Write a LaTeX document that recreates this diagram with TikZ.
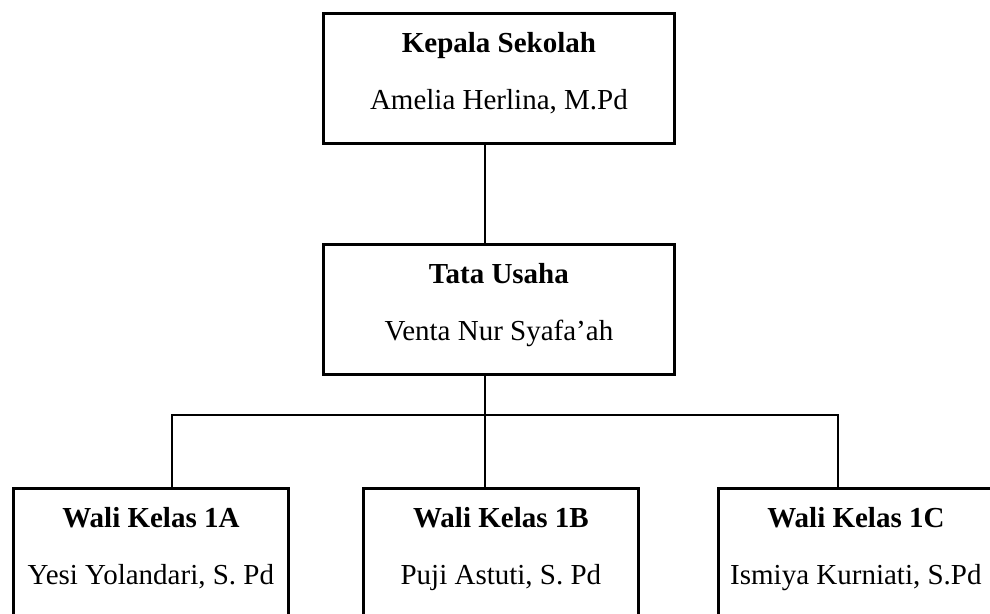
\documentclass[tikz,border=0pt]{standalone}
\usepackage{fontspec}
\setmainfont{Liberation Serif}
\begin{document}
\begin{tikzpicture}[x=1pt,y=-1pt,
  orgbox/.style={draw,line width=2.8pt,inner sep=0pt,anchor=north west,fill=white},
  bigbox/.style={orgbox,minimum width=351pt,minimum height=130pt},
  smallbox/.style={orgbox,minimum width=275pt,minimum height=150pt},
  roletxt/.style={anchor=base,inner sep=0pt,font=\bfseries\fontsize{29}{35}\selectfont},
  persontxt/.style={anchor=base,inner sep=0pt,font=\fontsize{29}{35}\selectfont},
  conn/.style={line width=2.8pt}]
\useasboundingbox (0,0) rectangle (990,613);
\clip (0,0) rectangle (990,613);
% trunk and drop coordinates
\coordinate (d1) at (172,415);
\coordinate (d2) at (485,415);
\coordinate (d3) at (838,415);
% boxes
\node[bigbox] (kepala) at (322,12) {};
\node[bigbox] (tata) at (322,243) {};
\node[smallbox] (w1) at (12,487) {};
\node[smallbox] (w2) at (362,487) {};
\node[smallbox] (w3) at (717,487) {};
% connectors
\draw[conn] (kepala.south -| d2) -- (tata.north -| d2);
\draw[conn] (tata.south -| d2) -- (d2);
\draw[conn,line cap=rect] (d1) -- (d3);
\draw[conn] (d1) -- (w1.north -| d1);
\draw[conn] (d2) -- (w2.north -| d2);
\draw[conn] (d3) -- (w3.north -| d3);
% texts
\node[roletxt] (kt) at ([yshift=-40pt]kepala.north) {Kepala Sekolah};
\node[persontxt] (kn) at ([yshift=-97pt]kepala.north) {Amelia Herlina, M.Pd};
\node[roletxt] (tt) at ([yshift=-40pt]tata.north) {Tata Usaha};
\node[persontxt] (tn) at ([yshift=-97pt]tata.north) {Venta Nur Syafa’ah};
\node[roletxt] (w1t) at ([yshift=-40pt]w1.north) {Wali Kelas 1A};
\node[persontxt] (w1n) at ([yshift=-97pt]w1.north) {Yesi Yolandari, S. Pd};
\node[roletxt] (w2t) at ([yshift=-40pt]w2.north) {Wali Kelas 1B};
\node[persontxt] (w2n) at ([yshift=-97pt]w2.north) {Puji Astuti, S. Pd};
\node[roletxt] (w3t) at ([yshift=-40pt]w3.north) {Wali Kelas 1C};
\node[persontxt] (w3n) at ([yshift=-97pt]w3.north) {Ismiya Kurniati, S.Pd};
\end{tikzpicture}
\end{document}
